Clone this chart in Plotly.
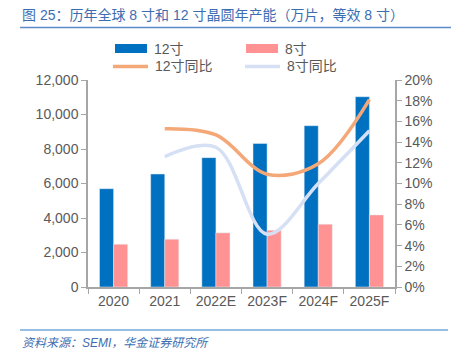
import plotly.graph_objects as go

years = ["2020", "2021", "2022E", "2023F", "2024F", "2025F"]
cap12 = [5700, 6550, 7500, 8320, 9350, 11030]
cap8 = [2480, 2770, 3140, 3290, 3640, 4180]
yoy12 = [None, 0.153, 0.147, 0.109, 0.119, 0.181]
yoy8 = [None, 0.126, 0.135, 0.051, 0.100, 0.151]
names = ["12寸", "8寸", "12寸同比", "8寸同比"]
title_text = "图 25：历年全球 8 寸和 12 寸晶圆年产能（万片，等效 8 寸）"
source_text = "资料来源：SEMI，华金证券研究所"

W, H = 451, 356
L, R, T, B = 88, 395, 80, 287
FONT = "Liberation Sans, Arial, Noto Sans CJK SC"
GRAY = "#595959"
AX = "#A6A6A6"
C12 = "#0070C0"
C8 = "#FF9393"
CL12 = "#F4A878"
CL8 = "#D6E0F4"

def px(x):
    return (x - L) / (R - L)

def py(y):
    return (B - y) / (B - T)

fig = go.Figure()
fig.add_trace(go.Bar(x=years, y=cap12, name=names[0], marker_color=C12, yaxis="y"))
fig.add_trace(go.Bar(x=years, y=cap8, name=names[1], marker_color=C8, yaxis="y"))
fig.add_trace(go.Scatter(x=years, y=yoy12, name=names[2], mode="lines",
                         line=dict(color=CL12, width=3.5, shape="spline", smoothing=1.0),
                         yaxis="y2"))
fig.add_trace(go.Scatter(x=years, y=yoy8, name=names[3], mode="lines",
                         line=dict(color=CL8, width=3.5, shape="spline", smoothing=1.0),
                         yaxis="y2"))

shapes = []
annotations = []
# legend (manual)
leg = [
    (115, 147, 48.5, "rect", C12, names[0]),
    (246, 278, 48.5, "rect", C8, names[1]),
    (113, 148, 66.5, "line", CL12, names[2]),
    (245, 280, 66.5, "line", CL8, names[3]),
]
for x0, x1, yc, kind, col, nm in leg:
    if kind == "rect":
        shapes.append(dict(type="rect", xref="paper", yref="paper",
                           x0=px(x0), x1=px(x1), y0=py(yc + 4.5), y1=py(yc - 4.5),
                           fillcolor=col, line=dict(width=0)))
    else:
        shapes.append(dict(type="line", xref="paper", yref="paper",
                           x0=px(x0), x1=px(x1), y0=py(yc), y1=py(yc),
                           line=dict(color=col, width=3.5)))
    annotations.append(dict(x=px(x1 + 5), y=py(yc), xref="paper", yref="paper",
                            text=nm, showarrow=False, xanchor="left", yanchor="middle",
                            font=dict(family=FONT, size=14, color=GRAY)))

# title & underline
annotations.append(dict(x=px(20), y=py(15), xref="paper", yref="paper", text=title_text,
                        showarrow=False, xanchor="left", yanchor="middle",
                        font=dict(family=FONT, size=14, color="#3B6DB3")))
shapes.append(dict(type="line", xref="paper", yref="paper", x0=px(20), x1=px(451),
                   y0=py(27.5), y1=py(27.5), line=dict(color="#5B8BC9", width=1.5)))
# footer
shapes.append(dict(type="line", xref="paper", yref="paper", x0=px(20), x1=px(448),
                   y0=py(330), y1=py(330), line=dict(color="#2E7DC8", width=1)))
annotations.append(dict(x=px(20), y=py(343), xref="paper", yref="paper",
                        text="<i>" + source_text + "</i>",
                        showarrow=False, xanchor="left", yanchor="middle",
                        font=dict(family=FONT, size=12, color="#3E6DB0")))

fig.update_layout(
    width=W, height=H,
    margin=dict(l=L, r=W - R, t=T, b=H - B, pad=0),
    paper_bgcolor="white", plot_bgcolor="white",
    showlegend=False,
    barmode="group", bargap=0.45, bargroupgap=0,
    font=dict(family=FONT, size=14, color=GRAY),
    xaxis=dict(type="category", tickson="boundaries", ticks="outside", ticklen=5,
               tickcolor=AX, showline=True, linecolor=AX, linewidth=1.5,
               showgrid=False, tickfont=dict(size=14, color=GRAY)),
    yaxis=dict(range=[0, 12000], dtick=2000, tickformat=",", ticks="outside", ticklen=5,
               tickcolor=AX, showline=True, linecolor=AX, linewidth=1.5, showgrid=False,
               zeroline=False, tickfont=dict(size=14, color=GRAY)),
    yaxis2=dict(range=[0, 0.2], dtick=0.02, tickformat=".0%", overlaying="y", side="right",
                ticks="outside", ticklen=5, tickcolor=AX, showline=True, linecolor=AX,
                linewidth=1.5, showgrid=False, zeroline=False,
                tickfont=dict(size=14, color=GRAY)),
    shapes=shapes, annotations=annotations,
)
fig.write_html("out.html", config={"displayModeBar": False},
               post_script="document.body.style.margin='0';document.body.style.overflow='hidden';")
